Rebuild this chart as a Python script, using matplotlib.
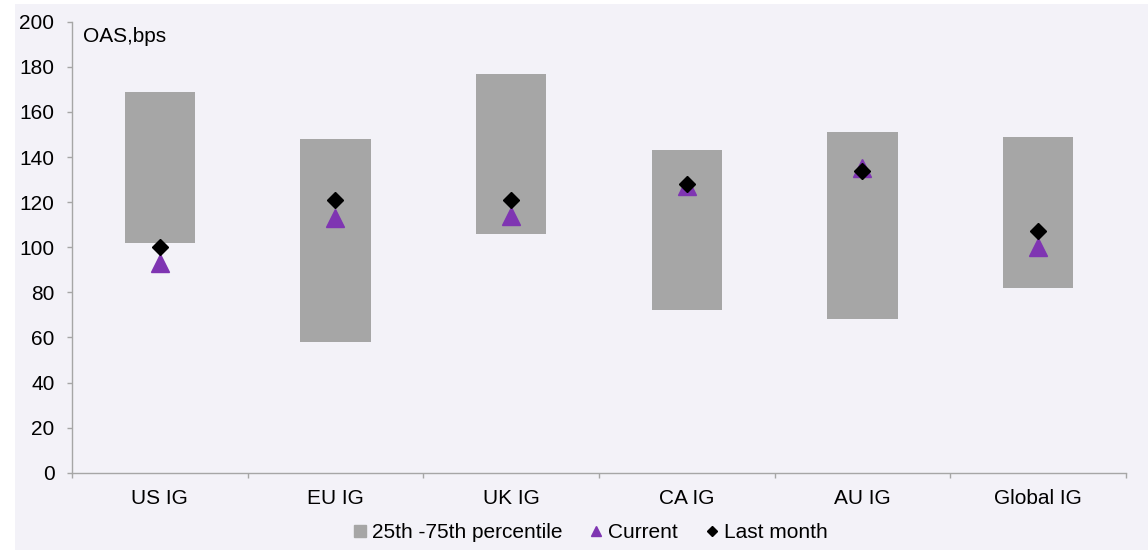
import matplotlib.pyplot as plt
from matplotlib.lines import Line2D
from matplotlib.patches import Rectangle
import numpy as np

plt.rcParams["font.family"] = ["Liberation Sans", "DejaVu Sans"]
plt.rcParams["font.size"] = 15

categories = ["US IG", "EU IG", "UK IG", "CA IG", "AU IG", "Global IG"]
pct25 = [102, 58, 106, 72, 68, 82]
pct75 = [169, 148, 177, 143, 151, 149]
current = [93, 113, 114, 127, 135, 100]
last_month = [100, 121, 121, 128, 134, 107]

BG = "#F3F2F8"
BOX = "#A6A6A6"
PURPLE = "#7F35B2"
AXIS = "#A6A6A6"


def main() -> None:
    fig = plt.figure(figsize=(11.48, 5.5), dpi=100, facecolor="white")
    # lavender panel, with a thin white strip on the left and top
    fig.add_artist(Rectangle((15 / 1148, 0), 1, 546 / 550,
                             transform=fig.transFigure, facecolor=BG,
                             edgecolor="none", zorder=-10))

    ax = fig.add_axes([0.0627, 0.1405, 0.9181, 0.82], facecolor=BG)

    x = np.arange(len(categories))
    heights = [hi - lo for lo, hi in zip(pct25, pct75)]
    ax.bar(x, heights, bottom=pct25, width=0.4, color=BOX, zorder=2)
    ax.plot(x, current, linestyle="none", marker="^", markersize=13,
            color=PURPLE, zorder=3)
    ax.plot(x, last_month, linestyle="none", marker="D", markersize=8,
            color="black", zorder=4)

    ax.set_xlim(-0.5, len(categories) - 0.5)
    ax.set_ylim(0, 200)
    ax.set_yticks(range(0, 201, 20))
    ax.set_xticks(x)
    ax.set_xticklabels(categories)
    ax.set_xticks(np.arange(-0.5, len(categories)), minor=True)
    ax.tick_params(axis="x", which="major", length=0, pad=12)
    ax.tick_params(axis="x", which="minor", length=3.6, color=AXIS, width=1)
    ax.tick_params(axis="y", length=3.6, color=AXIS, width=1, pad=9)

    for side in ("top", "right"):
        ax.spines[side].set_visible(False)
    for side in ("left", "bottom"):
        ax.spines[side].set_color(AXIS)
        ax.spines[side].set_linewidth(1.0)

    ax.text(0.0104, 0.9667, "OAS,bps", transform=ax.transAxes,
            ha="left", va="center")

    handles = [
        Line2D([], [], linestyle="none", marker="s", markersize=8, color=BOX),
        Line2D([], [], linestyle="none", marker="^", markersize=7, color=PURPLE),
        Line2D([], [], linestyle="none", marker="D", markersize=5, color="black"),
    ]
    fig.legend(handles, ["25th -75th percentile", "Current", "Last month"],
               loc="center", bbox_to_anchor=(0.5148, 0.0315), ncol=3,
               frameon=False, handletextpad=0.3, columnspacing=1.35,
               handlelength=0.55)

    fig.savefig("out.png", dpi=100, facecolor="white")


if __name__ == "__main__":
    main()
